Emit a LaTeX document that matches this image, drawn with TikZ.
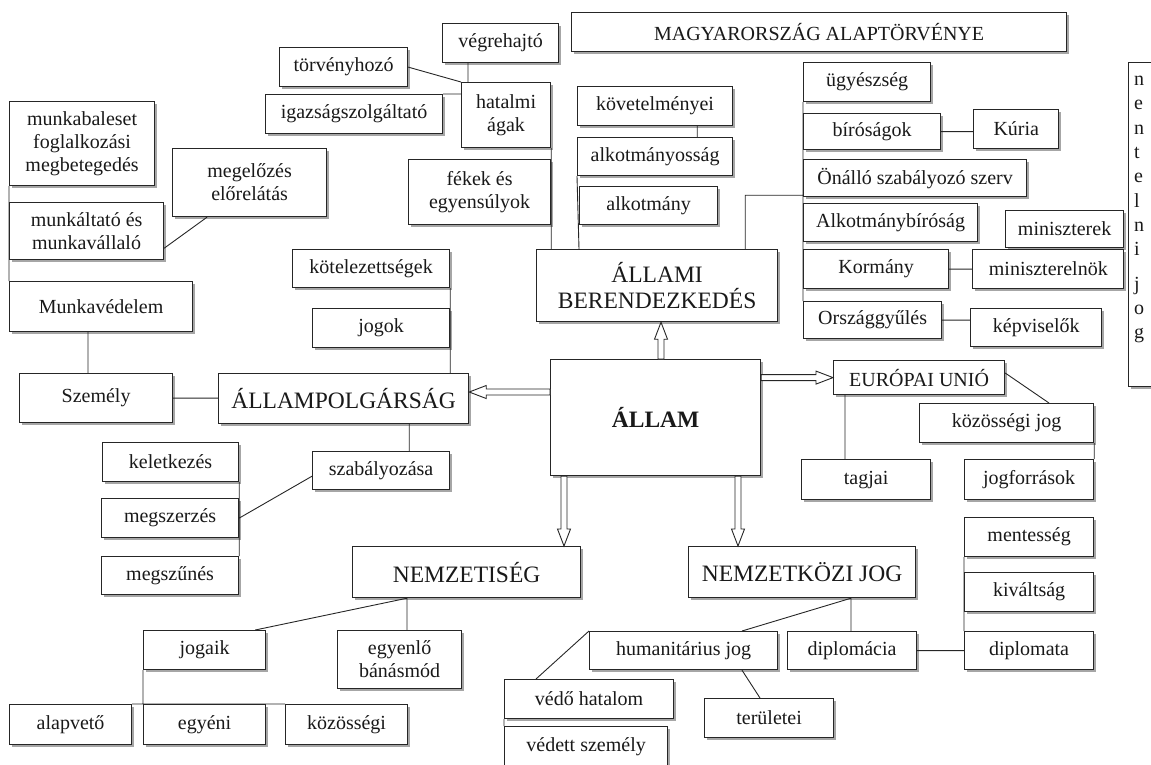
\documentclass[tikz,border=0pt]{standalone}
\usepackage{fontspec}
\setmainfont{Liberation Serif}
\usepackage{tikz}
\usetikzlibrary{positioning,calc,shadows}

\begin{document}
\begin{tikzpicture}[x=1pt,y=-1pt,
		box/.style={draw=black!85,line width=1.2pt,fill=white,align=center,inner sep=2pt,text=black!90,
			font=\fontsize{20}{23}\selectfont,
			drop shadow={shadow xshift=2pt,shadow yshift=-2pt,fill=black!35,opacity=1}},
		nagy/.style={box,font=\fontsize{23.5}{26}\selectfont},
		meret/.style 2 args={minimum width=#1,minimum height=#2},
		kapcs/.style={draw=black!85,line width=0.9pt},
		fat/.style={draw=black!85,fill=white,line width=0.9pt,line join=miter,
			to path={let \p1=($(\tikztotarget)-(\tikztostart)$),\n1={veclen(\x1,\y1)},\n2={atan2(\y1,\x1)} in
				[shift={(\tikztostart)},rotate=\n2,x=1pt,y=1pt]
				(0,3) -- (\n1-17,3) -- (\n1-17,6.5) -- (\n1,0) -- (\n1-17,-6.5) -- (\n1-17,-3) -- (0,-3) -- cycle}}]
	\useasboundingbox (0,0) rectangle (1151,764);

	% felso resz
	\node[box,anchor=north west,meret={495}{39}] (alaptorv) at (571,12) {MAGYARORSZÁG ALAPTÖRVÉNYE};
	\node[box,anchor=north west,meret={116}{39}] (vegreh) at (442,23) {végrehajtó};
	\node[box,anchor=north west,meret={128}{39}] (torvhoz) at (279,47) {törvényhozó};
	\node[box,anchor=north west,meret={177}{39}] (igazsag) at (265,94) {igazságszolgáltató};
	\node[box,anchor=north west,meret={89}{65}] (hatalmi) at (461,82) {hatalmi\\ágak};
	\node[box,anchor=north west,meret={142}{65}] (fekek) at (408,159) {fékek és\\egyensúlyok};
	\node[box,anchor=north west,meret={155}{39}] (kovet) at (577,86) {követelményei};
	\node[box,anchor=north west,meret={155}{38}] (alkotmanyossag) at (577,137) {alkotmányosság};
	\node[box,anchor=north west,meret={138}{38}] (alkotmany) at (579,186) {alkotmány};
	\node[nagy,anchor=north west,meret={241}{72}] (berend) at (536,249) {ÁLLAMI\\BERENDEZKEDÉS};

	\node[box,anchor=north west,meret={127}{39}] (ugyesz) at (803,62) {ügyészség};
	\node[box,anchor=north west,meret={137}{36}] (birosag) at (803,113) {bíróságok};
	\node[box,meret={85}{39}] (kuria) [right=32pt of birosag,yshift=2.5pt] {Kúria};
	\node[box,anchor=north west,meret={223}{37}] (onallo) at (803,159) {Önálló szabályozó szerv};
	\node[box,anchor=north west,meret={174}{38}] (ab) at (803,203) {Alkotmánybíróság};
	\node[box,anchor=north west,meret={118}{37}] (miniszterek) at (1005,210) {miniszterek};
	\node[box,anchor=north west,meret={145}{39}] (kormany) at (803,249) {Kormány};
	\node[box,meret={151}{39}] (miniszterelnok) [right=23pt of kormany] {miniszterelnök};
	\node[box,anchor=north west,meret={138}{37}] (ogy) at (803,301) {Országgyűlés};
	\node[box,meret={131}{38}] (kepviselok) [right=28pt of ogy,yshift=-7.5pt] {képviselők};
	\node[box,anchor=north west,meret={60}{324}] (jegyzet) at (1128,62) {};
	\node[anchor=north west,inner sep=0pt,align=left,text=black!90,font=\fontsize{20}{24.3}\selectfont] (jegyzetbetu) at (1134,76) {n\\e\\n\\t\\e\\l\\n\\i\\[10pt]j\\o\\g};

	% bal oldal
	\node[box,anchor=north west,meret={145}{84}] (munkabal) at (9,101) {munkabaleset\\foglalkozási\\megbetegedés};
	\node[box,anchor=north west,meret={154}{68}] (megelozes) at (172,148) {megelőzés\\előrelátás};
	\node[box,anchor=north west,meret={154}{57}] (munkaltato) at (9,202) {munkáltató és\\munkavállaló};
	\node[box,anchor=north west,meret={183}{50}] (munkaved) at (9,281) {Munkavédelem};
	\node[box,anchor=north west,meret={153}{49}] (szemely) at (19,373) {Személy};
	\node[nagy,anchor=north west,meret={250}{50}] (allampolg) at (218,373) {ÁLLAMPOLGÁRSÁG};
	\node[box,anchor=north west,meret={157}{38}] (kotelez) at (292,249) {kötelezettségek};
	\node[box,anchor=north west,meret={137}{39}] (jogok) at (312,308) {jogok};
	\node[box,anchor=north west,meret={137}{38}] (szabaly) at (312,451) {szabályozása};
	\node[box,anchor=north west,meret={136}{39}] (keletk) at (102,442) {keletkezés};
	\node[box,anchor=north west,meret={137}{39}] (megszerz) at (101,498) {megszerzés};
	\node[box,anchor=north west,meret={137}{38}] (megszun) at (101,556) {megszűnés};

	% kozep
	\node[nagy,anchor=north west,meret={210}{116}] (allam) at (550,359) {\textbf{ÁLLAM}};
	\node[box,anchor=north west,meret={171}{34}] (eu) at (833,360) {EURÓPAI UNIÓ};
	\node[box,anchor=north west,meret={174}{39}] (kozjog) at (919,403) {közösségi jog};
	\node[box,anchor=north west,meret={129}{40}] (jogforras) at (964,459) {jogforrások};
	\node[box,anchor=north west,meret={129}{40}] (tagjai) at (801,459) {tagjai};

	% also resz
	\node[nagy,anchor=north west,meret={228}{51}] (nemzetiseg) at (352,546) {NEMZETISÉG};
	\node[box,anchor=north west,meret={122}{39}] (jogaik) at (143,630) {jogaik};
	\node[box,anchor=north west,meret={124}{58}] (egyenlo) at (337,630) {egyenlő\\bánásmód};
	\node[box,anchor=north west,meret={122}{40}] (alapveto) at (9,704) {alapvető};
	\node[box,anchor=north west,meret={122}{40}] (egyeni) at (143,704) {egyéni};
	\node[box,anchor=north west,meret={122}{40}] (kozossegi) at (285,704) {közösségi};
	\node[nagy,anchor=north west,meret={227}{51}] (nemzkozi) at (688,546) {NEMZETKÖZI JOG};
	\node[box,anchor=north west,meret={188}{38}] (humjog) at (589,631) {humanitárius jog};
	\node[box,anchor=north west,meret={129}{38}] (diplomacia) at (787,631) {diplomácia};
	\node[box,anchor=north west,meret={169}{39}] (vedo) at (504,679) {védő hatalom};
	\node[box,anchor=north west,meret={163}{40}] (vedett) at (504,726) {védett személy};
	\node[box,anchor=north west,meret={129}{39}] (teruletei) at (704,698) {területei};
	\node[box,anchor=north west,meret={129}{39}] (mentesseg) at (964,517) {mentesség};
	\node[box,anchor=north west,meret={129}{39}] (kivaltsag) at (964,572) {kiváltság};
	\node[box,anchor=north west,meret={129}{38}] (diplomata) at (964,631) {diplomata};

	% kapcsolodasi pontok
	\coordinate (h1) at ($(hatalmi.north west)+(7,0)$);
	\coordinate (k1) at ($(kovet.south east)+(-36,0)$);
	\coordinate (b1) at ($(berend.north east)+(-33,0)$);
	\coordinate (m1) at ($(szemely.north west)+(69,0)$);
	\coordinate (a1) at ($(allampolg.south east)+(-60,0)$);
	\coordinate (n1) at ($(nemzetiseg.south west)+(55,0)$);
	\coordinate (n2) at ($(nemzkozi.south west)+(163,0)$);
	\coordinate (e1) at ($(eu.south west)+(12,0)$);

	\draw[kapcs]
		(torvhoz.east) -- (hatalmi.north west)
		(igazsag.north east) -- (igazsag.north east -| hatalmi.west)
		(h1) -- (h1 |- vegreh.south)
		(hatalmi.south east) -- (hatalmi.south east |- berend.north)
		(k1) -- (k1 |- alkotmanyossag.north)
		(alkotmanyossag.south west) -- ($(alkotmanyossag.south west |- berend.north)+(2,0)$)
		(b1) |- ($(onallo.south west)+(0,-2)$)
		(ugyesz.south west) -- (ogy.north west)
		(birosag.east) -- (birosag.east -| kuria.west)
		(kormany.east) -- (miniszterelnok.west)
		(ogy.east) -- (ogy.east -| kepviselok.west)
		(munkabal.south west) -- (munkaved.north west)
		($(munkaltato.south east)+(0,-12)$) -- ($(megelozes.south west)+(35,0)$)
		(m1) -- (m1 |- munkaved.south)
		(szemely.east) -- (szemely.east -| allampolg.west)
		(kotelez.south east) -- (kotelez.south east |- allampolg.north)
		(a1) -- (a1 |- szabaly.north)
		($(szabaly.south west)+(0,-14)$) -- (megszerz.east)
		(keletk.south east) -- (megszun.north east)
		(n1) -- ($(jogaik.north east)+(-11,0)$)
		(n1) -- (n1 |- egyenlo.north)
		(jogaik.south west) -- (egyeni.north west)
		(alapveto.north east) -- (kozossegi.north west)
		(n2) -- ($(humjog.north west)+(153,0)$)
		(n2) -- (n2 |- diplomacia.north)
		(humjog.north west) -- ($(vedo.north west)+(32,0)$)
		(vedo.south west) -- (vedett.north west)
		($(humjog.south west)+(153,0)$) -- ($(teruletei.north west)+(56,0)$)
		(diplomacia.east) -- (diplomacia.east -| diplomata.west)
		(mentesseg.south west) -- (diplomata.north west)
		($(eu.north east)+(0,13)$) -- ($(kozjog.north west)+(130,0)$)
		(kozjog.south east) -- (jogforras.north east)
		(e1) -- (e1 |- tagjai.north);

	% vastag nyilak
	\coordinate (fel1) at ($(allam.north west)+(111,0)$);
	\coordinate (fel2) at (fel1 |- berend.south);
	\coordinate (bal1) at ($(allam.north west)+(0,33)$);
	\coordinate (bal2) at (bal1 -| allampolg.east);
	\coordinate (jobb1) at (eu.west -| allam.east);
	\coordinate (le1) at ($(allam.south west)+(14,0)$);
	\coordinate (le2) at (le1 |- nemzetiseg.north);
	\coordinate (le3) at ($(allam.south west)+(188,0)$);
	\coordinate (le4) at (le3 |- nemzkozi.north);
	\draw[fat] (fel1) to (fel2);
	\draw[fat] (bal1) to (bal2);
	\draw[fat] (jobb1) to (eu.west);
	\draw[fat] (le1) to (le2);
	\draw[fat] (le3) to (le4);
\end{tikzpicture}
\end{document}
